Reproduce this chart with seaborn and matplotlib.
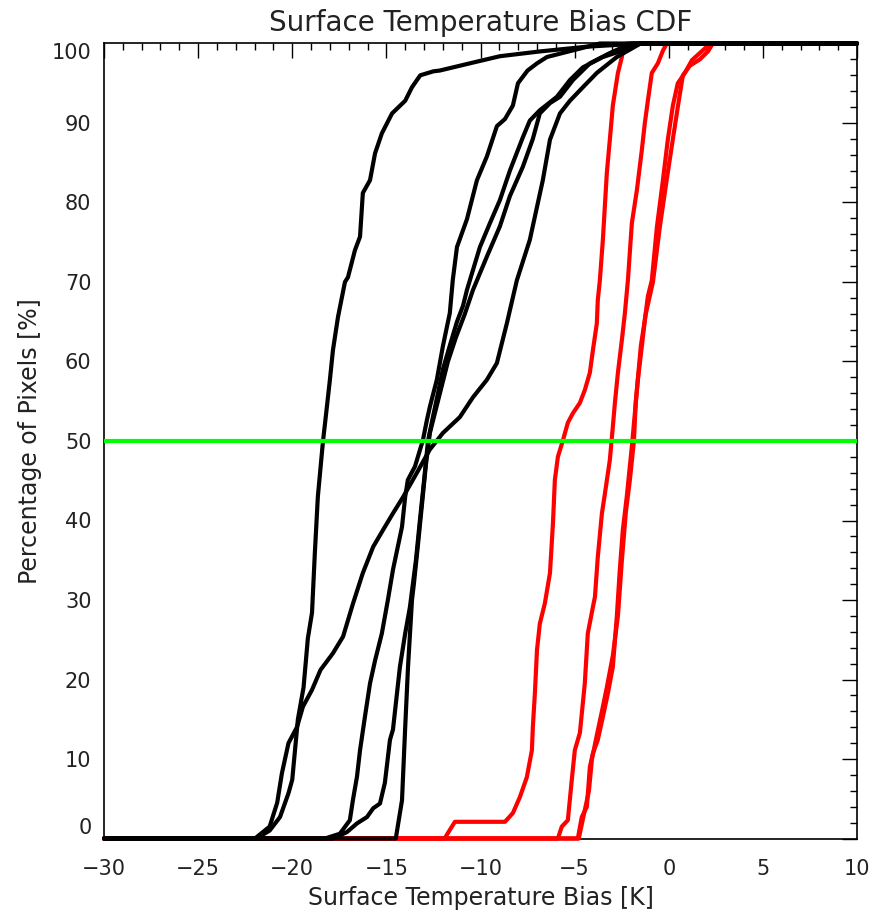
import matplotlib
matplotlib.use("Agg")
import matplotlib.pyplot as plt
import seaborn as sns
import pandas as pd
from matplotlib.ticker import MultipleLocator

# ---------------- data ----------------
b1_x = [-30, -21.9, -21.2, -20.65, -20.2, -20.0, -19.7, -19.4, -19.17, -18.95, -18.8, -18.64, -18.37,
        -18.16, -18.0, -17.84, -17.57, -17.2, -17.04, -16.67, -16.4, -16.25, -15.87, -15.6, -15.24,
        -14.7, -14.0, -13.64, -13.2, -12.5, -12.16, -10.4, -8.97, -6.85, -4.35, -1.5, 10]
b1_y = [0, 0, 1, 2.7, 5.7, 7.4, 15, 19, 25.2, 28.4, 35.9, 43, 49.9, 54.3, 57.7, 61.4, 65.6, 70, 70.6,
        74, 75.7, 81.2, 82.8, 86.2, 88.7, 91.2, 92.8, 94.5, 96, 96.5, 96.6, 97.6, 98.4, 99, 99.6, 100, 100]

b2_x = [-30, -21.98, -21.2, -20.8, -20.55, -20.2, -19.75, -19.43, -18.95, -18.5, -17.84, -17.3, -16.78,
        -16.25, -15.7, -15.18, -14.65, -14.1, -13.38, -12.7, -12.0, -11.1, -10.4, -9.66, -9.13, -8.6,
        -8.07, -7.38, -6.69, -6.31, -5.78, -5.25, -4.56, -3.82, -2.76, -1.5, 10]
b2_y = [0, 0, 1.5, 4.5, 8.2, 12, 14, 16.6, 18.7, 21.2, 23.3, 25.4, 29.5, 33.4, 36.7, 38.8, 40.9, 43, 46,
        48.9, 51, 53, 55.5, 57.7, 59.8, 64.8, 70.2, 75.3, 82.8, 87.9, 91.2, 92.8, 94.5, 96.3, 98.3, 100, 100]

b3_x = [-30, -18.26, -17.47, -16.94, -16.78, -16.56, -16.4, -16.14, -15.87, -15.6, -15.24, -14.92,
        -14.65, -14.17, -14.0, -13.86, -13.48, -13.06, -12.85, -12.69, -12.32, -12.0, -11.63, -11.47,
        -11.25, -10.72, -10.19, -9.66, -9.13, -8.7, -8.28, -8.01, -7.5, -7.0, -6.47, -3.66, 10]
b3_y = [0, 0, 0.6, 2.3, 4.8, 7.8, 11.1, 15.3, 19.5, 22.4, 25.8, 30, 33.8, 39.2, 43, 45.1, 46.8, 50.1,
        52.6, 54.3, 57.7, 61.9, 66.1, 70.3, 74.4, 77.9, 82.8, 85.8, 89.6, 90.5, 92.2, 95, 96.6, 97.5,
        98.3, 100, 100]

b4_x = [-30, -17.84, -17.1, -16.56, -16.03, -15.7, -15.34, -15.08, -14.81, -14.65, -14.28, -14.0,
        -13.75, -13.43, -13.22, -13.0, -12.79, -12.53, -12.26, -12.0, -11.63, -11.25, -10.93, -10.72,
        -10.03, -9.5, -8.97, -8.44, -7.75, -7.38, -6.85, -5.94, -5.25, -4.56, -3.5, -2.6, -1.5, 10]
b4_y = [0, 0, 0.8, 1.9, 2.7, 3.8, 4.4, 7, 12.4, 13.7, 21.6, 25.8, 29.1, 35, 40, 45, 50, 53, 56, 59,
        62, 65, 67, 69, 74.4, 77.4, 80.3, 84, 88.2, 90.3, 91.6, 93.3, 95.4, 97, 98.3, 99, 100, 100]

b5_x = [-30, -14.5, -14.17, -14.0, -13.85, -13.64, -13.54, -13.32, -13.11, -12.9, -12.69, -12.37,
        -12.05, -11.73, -11.31, -10.83, -10.4, -9.66, -8.97, -8.44, -7.75, -7.22, -6.85, -6.31, -5.78,
        -5.09, -4.19, -3.13, -2.0, 10]
b5_y = [0, 0, 4.8, 14, 21.6, 30, 32, 37, 42, 47, 51, 54, 57, 60, 63, 66, 69, 73.2, 77, 80.8, 84.5,
        88, 91.2, 92.5, 93.3, 95.4, 97.5, 98.8, 100, 100]

r1_x = [-30, -11.9, -11.78, -11.36, -8.7, -8.28, -7.91, -7.54, -7.27, -7.22, -7.11, -7.0, -6.85,
        -6.58, -6.31, -6.15, -6.05, -5.89, -5.62, -5.36, -5.09, -4.72, -4.46, -4.19, -4.03, -3.82,
        -3.77, -3.66, -3.5, -3.29, -3.13, -2.97, -2.7, -2.49, -2.44, -2.23, 10]
r1_y = [0, 0, 0.5, 2.1, 2.1, 3.2, 5.2, 7.7, 11.1, 14, 18.3, 23.7, 27, 29.6, 33.4, 39.7, 45.1, 48,
        50.1, 52.3, 53.5, 54.8, 56.4, 58.6, 61.4, 64.8, 67.7, 70.2, 75.3, 83.7, 87.9, 92.2, 96.3, 98.3,
        99.1, 100, 100]

r2_x = [-30, -5.89, -5.68, -5.36, -5.15, -4.99, -4.72, -4.46, -4.3, -4.03, -3.92, -3.77, -3.55, -3.39,
        -3.13, -2.97, -2.86, -2.7, -2.49, -2.33, -2.17, -1.96, -1.69, -1.43, -1.27, -1.11, -0.9, -0.58,
        -0.31, -0.1, 10]
r2_y = [0, 0, 1.5, 2.3, 7.4, 11.1, 13.3, 19.5, 25.8, 29.1, 30.4, 35.4, 40.9, 43.4, 47.6, 51.8, 54.8,
        58.6, 62.7, 66.1, 70.2, 77.4, 81.6, 86.6, 90, 92.8, 96.3, 97.5, 99.1, 100, 100]

r3_x = [-30, -4.83, -4.62, -4.35, -4.19, -4.03, -3.77, -3.5, -3.23, -2.97, -2.76, -2.6, -2.44, -2.23,
        -1.96, -1.8, -1.64, -1.43, -1.27, -1.11, -0.9, -0.63, -0.31, -0.05, 0.22, 0.48, 0.86, 1.23,
        1.65, 2.02, 2.29, 10]
r3_y = [0, 0, 2.7, 4, 9, 10.7, 12.4, 15.3, 18.3, 21.6, 27.9, 33.8, 38.8, 43, 49.3, 53.5, 57.7, 61.9,
        65.2, 68.2, 70.2, 76.9, 82.8, 87.9, 92.2, 95, 96.3, 97.9, 98.8, 99.6, 100, 100]

r4_x = [-30, -4.78, -4.51, -4.24, -4.08, -3.82, -3.55, -3.29, -2.97, -2.7, -2.49, -2.28, -2.07, -1.85,
        -1.75, -1.48, -1.22, -0.84, -0.47, -0.1, 0.22, 0.48, 0.75, 1.12, 1.65, 2.08, 2.34, 10]
r4_y = [0, 0, 3, 6, 10, 13, 16, 19, 23, 28, 35, 41, 45, 50, 55, 62, 66, 70, 77, 83, 88, 92, 96, 97.2,
        98, 99, 100, 100]

median_level = 50
x_limits = (-30, 10)
y_limits = (0, 100)
title_text = "Surface Temperature Bias CDF"
x_label = "Surface Temperature Bias [K]"
y_label = "Percentage of Pixels [%]"

# ---------------- figure ----------------
sns.set_style("white")
plt.rcParams["font.family"] = ["DejaVu Sans"]

fig = plt.figure(figsize=(8.73, 9.16), dpi=100)
ax = fig.add_axes([104 / 873, 1 - 838.5 / 916, (857 - 104) / 873, (838.5 - 43.5) / 916])

LW = 3.0
red_curves = [(r1_x, r1_y), (r2_x, r2_y), (r3_x, r3_y), (r4_x, r4_y)]
black_curves = [(b1_x, b1_y), (b2_x, b2_y), (b3_x, b3_y), (b4_x, b4_y), (b5_x, b5_y)]

for xs, ys in red_curves:
    df = pd.DataFrame({"x": xs, "y": ys})
    sns.lineplot(data=df, x="x", y="y", ax=ax, color="#ff0000", linewidth=LW,
                 estimator=None, sort=False, zorder=3, clip_on=False)
for xs, ys in black_curves:
    df = pd.DataFrame({"x": xs, "y": ys})
    sns.lineplot(data=df, x="x", y="y", ax=ax, color="#000000", linewidth=LW,
                 estimator=None, sort=False, zorder=4, clip_on=False)

ax.axhline(median_level, color="#00ff00", linewidth=LW, zorder=5)

ax.set_xlim(*x_limits)
ax.set_ylim(*y_limits)

ax.xaxis.set_major_locator(MultipleLocator(5))
ax.xaxis.set_minor_locator(MultipleLocator(1))
ax.yaxis.set_major_locator(MultipleLocator(10))
ax.yaxis.set_minor_locator(MultipleLocator(2))

ax.tick_params(which="both", direction="in", top=True, right=True, colors="black",
               labelsize=15, width=1.0)
ax.tick_params(which="major", length=11)
ax.tick_params(which="minor", length=5)
ax.tick_params(axis="x", which="major", pad=15)
ax.tick_params(axis="y", which="major", pad=9)
for lab in ax.get_xticklabels() + ax.get_yticklabels():
    lab.set_color("#222222")

for sp in ax.spines.values():
    sp.set_color("black")
    sp.set_linewidth(1.2)

ax.set_title(title_text, fontsize=20, pad=9, color="#222222")
ax.set_xlabel(x_label, fontsize=17, labelpad=5, color="#222222")
ax.set_ylabel(y_label, fontsize=17, labelpad=7, color="#222222")

fig.canvas.draw()
for lab in ax.get_yticklabels():
    t = lab.get_text().replace("\u2212", "-")
    if t == "100":
        lab.set_va("top")
    elif t == "0":
        lab.set_va("bottom")
    lab.set_color("#222222")
for lab in ax.get_xticklabels():
    lab.set_color("#222222")

fig.savefig("out.png", dpi=100, facecolor="white")
